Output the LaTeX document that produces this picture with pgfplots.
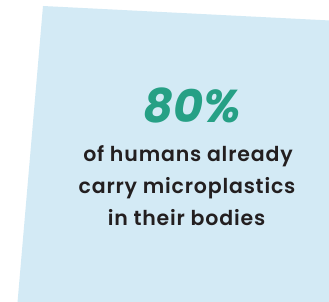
\documentclass[border=0pt]{standalone}
\usepackage{pgfplots}
\pgfplotsset{compat=1.18}
\usepackage{fontspec}
\setmainfont{Poppins}[BoldFont={Poppins SemiBold}, BoldItalicFont={Poppins Bold Italic}]
\definecolor{panel}{HTML}{D3EAF5}
\definecolor{teal80}{HTML}{26A085}
\definecolor{ink}{HTML}{231F20}
\begin{document}
\begin{tikzpicture}
\begin{axis}[
  width=329pt, height=302pt, scale only axis,
  xmin=0, xmax=329, ymin=0, ymax=302, y dir=reverse,
  hide axis, clip=true,
]
\addplot[fill=white, draw=none] coordinates {(0,0) (329,0) (329,302) (0,302)} -- cycle;
\addplot[fill=panel, draw=none] coordinates {(43,6) (340,21) (340,320) (16,320)} -- cycle;
\node[text=teal80, font=\fontsize{46}{46}\selectfont\bfseries\itshape, anchor=base] at (axis cs:192.5,123) {80\%};
\tikzset{body/.style={text=ink, font=\fontsize{20.5}{31}\selectfont\bfseries\addfontfeatures{LetterSpace=4}, anchor=base, inner sep=0pt}}
\node[body] at (axis cs:188,161) {of humans already};
\node[body] at (axis cs:187,193.5) {carry microplastics};
\node[body] at (axis cs:186.5,225) {in their bodies};
\end{axis}
\end{tikzpicture}
\end{document}
